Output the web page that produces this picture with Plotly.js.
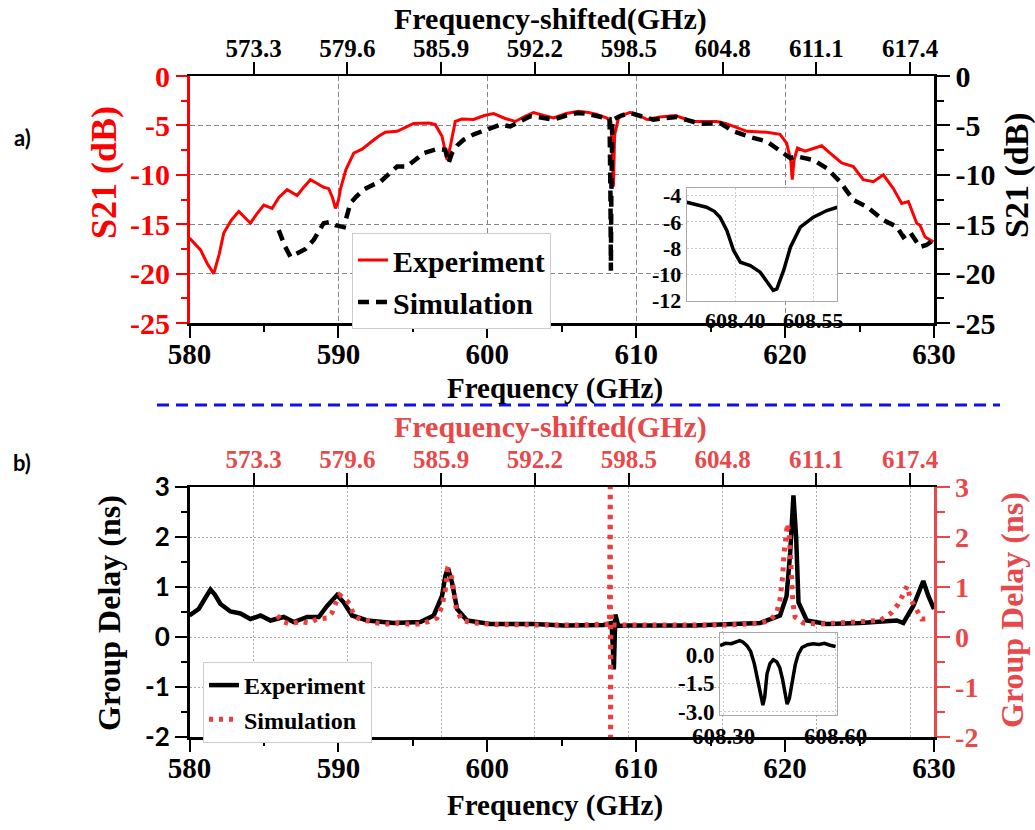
<!DOCTYPE html>
<html>
<head>
<meta charset="utf-8">
<script src="https://cdn.plot.ly/plotly-3.0.1.min.js"></script>
<style>html,body{margin:0;padding:0;background:#fff;}#chart{width:1035px;height:830px;}</style>
</head>
<body>
<div id="chart"></div>
<script>
// ---------- Panel a) S21 ----------
const s21ExpFreq = [580.0,580.3,580.74,581.2,581.63,582.0,582.3,582.8,583.31,583.7,584.09,584.5,584.99,585.55,586.0,586.56,587.23,587.7,588.12,588.6,589.01,589.35,589.6,589.8,590.0,590.13,590.5,591.03,591.59,592.26,592.7,593.15,593.94,594.5,595.05,596.06,596.5,596.96,597.15,597.3,597.52,597.85,598.3,599.08,599.8,600.42,601.2,601.88,602.5,603.1,603.8,604.45,605.3,606.13,606.8,607.36,608.03,608.3,608.4,608.47,608.55,608.81,609.2,609.6,610.2,610.72,611.6,612.62,613.2,613.85,614.6,615.4,616.0,616.53,617.43,618.1,618.77,619.66,620.1,620.38,620.48,620.6,620.83,621.34,621.9,622.46,623.02,623.8,624.58,625.25,625.93,626.6,627.27,627.83,628.28,628.84,629.06,629.4,629.96];
const s21ExpVal  = [-16.4,-16.9,-17.6,-19.0,-20.0,-18.0,-15.9,-14.6,-13.7,-14.3,-14.9,-14.0,-13.06,-13.4,-12.3,-11.5,-12.1,-11.2,-10.5,-10.9,-11.26,-11.4,-12.3,-13.4,-12.6,-11.5,-9.5,-7.8,-7.4,-6.6,-6.1,-5.7,-5.6,-5.2,-4.8,-4.76,-4.9,-6.1,-7.3,-8.5,-7.1,-4.6,-4.35,-4.4,-4.0,-3.8,-4.3,-4.6,-4.1,-3.7,-4.0,-4.25,-3.8,-3.58,-3.7,-3.9,-4.25,-4.6,-8.0,-11.2,-6.0,-4.25,-3.9,-3.68,-4.0,-4.4,-4.15,-4.0,-4.3,-4.6,-4.6,-4.6,-4.8,-5.1,-5.6,-5.65,-5.7,-5.9,-6.8,-8.5,-10.5,-8.5,-7.3,-7.6,-7.3,-7.06,-7.8,-8.8,-9.17,-10.5,-10.7,-10.0,-11.4,-12.9,-12.7,-14.9,-15.1,-16.3,-16.8];

const s21SimFreq = [585.99,586.4,586.78,587.3,587.79,588.34,588.7,589.01,589.4,589.8,590.36,590.8,591.2,591.7,592.2,592.82,593.4,593.94,594.6,595.2,595.73,596.62,597.18,597.4,597.63,598.0,598.41,599.1,599.75,600.3,600.87,601.54,602.2,602.89,603.6,604.45,605.3,606.02,606.6,607.36,608.21,608.27,608.30,608.33,608.40,608.48,609.0,609.6,610.4,611.16,612.0,612.73,613.5,614.3,615.0,615.64,616.53,617.65,618.77,619.66,620.34,620.78,621.9,622.8,623.69,624.58,625.48,626.6,627.5,627.94,628.39,629.06,629.5,629.96];
const s21SimVal  = [-15.6,-17.2,-18.3,-17.9,-17.5,-16.6,-15.6,-14.9,-14.8,-15.1,-15.3,-12.9,-12.2,-11.5,-11.1,-10.7,-9.9,-9.17,-9.17,-8.4,-7.8,-7.4,-7.47,-8.8,-7.8,-7.0,-6.45,-5.9,-5.5,-5.2,-4.93,-5.1,-4.6,-4.08,-4.2,-4.42,-4.0,-3.74,-3.8,-4.08,-4.35,-12.0,-19.7,-12.0,-4.4,-4.4,-4.0,-3.74,-4.1,-4.42,-4.25,-4.15,-4.5,-4.83,-4.8,-4.76,-5.6,-6.18,-6.62,-7.64,-8.3,-8.14,-8.5,-9.33,-10.7,-12.55,-13.23,-14.58,-15.26,-16.3,-15.8,-17.3,-17.1,-16.6];

// inset a): zoom of the experimental dip
const insetAFreq = [608.307,608.325,608.345,608.360,608.371,608.384,608.397,608.410,608.429,608.448,608.461,608.473,608.480,608.493,608.506,608.525,608.550,608.576,608.596];
const insetAVal  = [-4.51,-4.70,-4.89,-5.20,-5.65,-6.66,-8.18,-9.07,-9.32,-9.83,-10.59,-11.22,-11.1,-9.7,-7.93,-6.41,-5.65,-5.14,-4.89];

// ---------- Panel b) Group delay ----------
const gdExpFreq = [580.0,580.62,581.0,581.41,581.7,582.08,582.75,583.42,584.09,584.77,585.44,586.33,587.0,587.9,588.68,589.24,589.91,590.36,590.92,591.93,593.71,595.5,596.4,596.96,597.18,597.36,597.63,597.97,598.64,600.2,603.1,605.12,607.8,608.35,608.5,608.6,608.8,609.38,613.85,618.32,619.66,620.1,620.34,620.56,620.74,620.9,621.46,622.8,625.03,626.82,627.5,627.94,628.61,629.28,629.62,630.0];
const gdExpVal  = [0.43,0.56,0.75,0.95,0.85,0.66,0.51,0.47,0.36,0.43,0.33,0.40,0.30,0.40,0.40,0.62,0.84,0.69,0.43,0.33,0.28,0.30,0.43,0.82,1.22,1.38,1.09,0.56,0.33,0.26,0.26,0.23,0.24,0.28,-0.65,0.45,0.22,0.23,0.23,0.28,0.43,0.82,1.68,2.83,2.0,0.69,0.33,0.26,0.28,0.33,0.33,0.28,0.62,1.12,0.82,0.56];

const gdSimFreq = [585.89,586.22,586.78,587.4,588.0,588.57,589.24,589.58,589.8,590.09,590.47,590.76,591.03,591.48,592.03,592.6,593.27,593.94,594.61,595.39,596.06,596.62,596.96,597.18,597.34,597.52,597.7,597.92,598.3,599.08,600.5,602.0,604.0,606.0,607.5,608.2,608.26,608.28,608.3,608.4,610.0,612.0,614.0,616.0,617.5,618.32,619.0,619.44,619.66,619.84,619.93,620.07,620.16,620.29,620.38,620.52,620.67,621.23,622.35,624.0,625.03,626.38,627.16,627.6,627.94,628.2,628.39,628.72,629.17,629.73];
const gdSimVal  = [0.43,0.31,0.26,0.31,0.28,0.36,0.38,0.49,0.66,0.84,0.76,0.66,0.44,0.34,0.32,0.28,0.26,0.28,0.26,0.26,0.31,0.38,0.62,0.95,1.35,1.32,1.02,0.56,0.33,0.28,0.25,0.24,0.24,0.24,0.24,0.26,3.3,-2.3,0.5,0.24,0.24,0.24,0.23,0.24,0.26,0.28,0.33,0.49,0.76,1.22,1.68,2.07,2.27,2.0,1.35,0.69,0.4,0.28,0.26,0.28,0.3,0.33,0.49,0.66,0.86,1.02,0.79,0.59,0.36,0.36];

// inset b): zoom of the experimental group delay
const insetBFreq = [608.290,608.305,608.320,608.335,608.343,608.352,608.362,608.372,608.382,608.392,608.400,608.405,608.410,608.416,608.424,608.433,608.442,608.450,608.458,608.465,608.470,608.476,608.484,608.492,608.500,608.510,608.525,608.540,608.556,608.570,608.585,608.600];
const insetBVal  = [0.50,0.62,0.60,0.72,0.76,0.68,0.50,0.20,-0.45,-1.40,-2.30,-2.65,-2.20,-1.00,-0.45,-0.25,-0.35,-0.65,-1.30,-2.20,-2.60,-2.30,-1.40,-0.50,0.05,0.40,0.55,0.60,0.56,0.62,0.52,0.45];

// ---------- Tick labels ----------
const shiftedTickVals = [573.3,579.6,585.9,592.2,598.5,604.8,611.1,617.4];
const shiftedTickText = ["573.3","579.6","585.9","592.2","598.5","604.8","611.1","617.4"];
const s21TickVals = [0,-5,-10,-15,-20,-25];
const s21TickText = ["0","-5","-10","-15","-20","-25"];
const gdTickVals = [3,2,1,0,-1,-2];
const gdTickText = ["3","2","1","0","-1","-2"];
const insetATickValsX = [608.40,608.55];
const insetATickTextX = ["608.40","608.55"];
const insetATickValsY = [-12,-10,-8,-6,-4];
const insetATickTextY = ["-12","-10","-8","-6","-4"];
const insetBTickValsX = [608.30,608.60];
const insetBTickTextX = ["608.30","608.60"];
const insetBTickValsY = [0,-1.5,-3];
const insetBTickTextY = ["0.0","-1.5","-3.0"];

// ---------- Styling ----------
const SERIF = "Liberation Serif, Times New Roman, serif";
const SANS = "Lato, Open Sans, sans-serif";
const RED = "#ff0000";
const RED2 = "#e8484a";
const DOTRED = "#f03c3c";
const W = 1035, H = 830;
const px = v => v / W;
const py = v => 1 - v / H;

const xDom = [px(189.5), px(934)];
const yDomA = [py(323), py(76)];
const yDomB = [py(737), py(487)];

function f(size, color, family) {
  return {family: family || SERIF, size: size, color: color || "black", weight: 700};
}

const traces = [
  {x: s21ExpFreq, y: s21ExpVal, xaxis: "x", yaxis: "y", type: "scatter", mode: "lines",
   name: "Experiment", line: {color: RED, width: 3}, legend: "legend"},
  {x: s21SimFreq, y: s21SimVal, xaxis: "x", yaxis: "y", type: "scatter", mode: "lines",
   name: "Simulation", line: {color: "black", width: 4.5, dash: "11px,7px"}, legend: "legend"},
  // carrier trace so the shifted-frequency (top) and right S21 axes are drawn
  {x: [null], y: [null], xaxis: "x2", yaxis: "y2", type: "scatter", mode: "lines",
   showlegend: false, hoverinfo: "skip"},
  {x: gdExpFreq, y: gdExpVal, xaxis: "x3", yaxis: "y3", type: "scatter", mode: "lines",
   name: "Experiment", line: {color: "black", width: 4.5}, legend: "legend2"},
  {x: gdSimFreq, y: gdSimVal, xaxis: "x3", yaxis: "y3", type: "scatter", mode: "lines",
   name: "Simulation", line: {color: DOTRED, width: 5, dash: "4px,6px"}, legend: "legend2"},
  // carrier trace so the shifted-frequency (top) and right group-delay axes are drawn
  {x: [null], y: [null], xaxis: "x4", yaxis: "y4", type: "scatter", mode: "lines",
   showlegend: false, hoverinfo: "skip"},
  {x: insetAFreq, y: insetAVal, xaxis: "x5", yaxis: "y5", type: "scatter", mode: "lines",
   showlegend: false, line: {color: "black", width: 3.5}},
  {x: insetBFreq, y: insetBVal, xaxis: "x6", yaxis: "y6", type: "scatter", mode: "lines",
   showlegend: false, line: {color: "black", width: 3.5}}
];

const gridDash = "5px,3px";
const gridDot = "2px,2px";

const layout = {
  width: W, height: H, autosize: false,
  margin: {l: 0, r: 0, t: 0, b: 0},
  paper_bgcolor: "white", plot_bgcolor: "white",
  font: {family: SERIF, weight: 700, color: "black"},
  showlegend: true,
  // Panel a)
  xaxis: {domain: xDom, anchor: "y", range: [580, 630], dtick: 10, tick0: 580,
    ticks: "outside", ticklen: 12, tickwidth: 2, tickcolor: "black", ticklabelstandoff: -8,
    showline: true, linecolor: "black", linewidth: 2.5, zeroline: false,
    showgrid: true, gridcolor: "#888", gridwidth: 1, griddash: gridDash,
    minor: {dtick: 5, tick0: 580, ticks: "outside", ticklen: 6, tickwidth: 2, tickcolor: "black", showgrid: false},
    tickfont: f(29)},
  xaxis2: {overlaying: "x", side: "top", anchor: "y", range: [569, 619],
    tickmode: "array", tickvals: shiftedTickVals, ticktext: shiftedTickText,
    ticks: "outside", ticklen: 12, tickwidth: 2, tickcolor: "black", ticklabelstandoff: -5,
    showline: true, linecolor: "black", linewidth: 2.5, showgrid: false, zeroline: false,
    tickfont: f(25)},
  yaxis: {domain: yDomA, anchor: "x", range: [-25, 0],
    tickmode: "array", tickvals: s21TickVals, ticktext: s21TickText,
    ticks: "outside", ticklen: 11, tickwidth: 2, tickcolor: RED,
    showline: true, linecolor: RED, linewidth: 2.5, zeroline: false,
    showgrid: true, gridcolor: "#888", gridwidth: 1, griddash: gridDash,
    minor: {dtick: 2.5, tick0: 0, ticks: "outside", ticklen: 6, tickwidth: 2, tickcolor: RED, showgrid: false},
    tickfont: f(30, RED)},
  yaxis2: {overlaying: "y", side: "right", anchor: "x", range: [-25, 0],
    tickmode: "array", tickvals: s21TickVals, ticktext: s21TickText,
    ticks: "outside", ticklen: 13, tickwidth: 2, tickcolor: "black",
    showline: true, linecolor: "black", linewidth: 2.5, showgrid: false, zeroline: false,
    minor: {dtick: 2.5, tick0: 0, ticks: "outside", ticklen: 7, tickwidth: 2, tickcolor: "black", showgrid: false},
    tickfont: f(30)},
  // Panel b)
  xaxis3: {domain: xDom, anchor: "y3", range: [580, 630], dtick: 10, tick0: 580,
    ticks: "outside", ticklen: 12, tickwidth: 2, tickcolor: "black", ticklabelstandoff: -8,
    showline: true, linecolor: "black", linewidth: 2.5, zeroline: false, showgrid: false,
    minor: {dtick: 5, tick0: 580, ticks: "outside", ticklen: 6, tickwidth: 2, tickcolor: "black", showgrid: false},
    tickfont: f(29)},
  xaxis4: {overlaying: "x3", side: "top", anchor: "y3", range: [569, 619],
    tickmode: "array", tickvals: shiftedTickVals, ticktext: shiftedTickText,
    ticks: "outside", ticklen: 12, tickwidth: 2, tickcolor: "black", ticklabelstandoff: -5,
    showline: true, linecolor: "black", linewidth: 2.5, zeroline: false,
    showgrid: true, gridcolor: "#aaa", gridwidth: 1, griddash: gridDot,
    tickfont: f(25, RED2)},
  yaxis3: {domain: yDomB, anchor: "x3", range: [-2, 3],
    tickmode: "array", tickvals: gdTickVals, ticktext: gdTickText,
    ticks: "outside", ticklen: 12, tickwidth: 2, tickcolor: "black",
    showline: true, linecolor: "black", linewidth: 2.5, zeroline: false,
    showgrid: true, gridcolor: "#aaa", gridwidth: 1, griddash: gridDot,
    minor: {dtick: 0.5, tick0: 0, ticks: "outside", ticklen: 6, tickwidth: 2, tickcolor: "black", showgrid: false},
    tickfont: f(26, "black", SANS)},
  yaxis4: {overlaying: "y3", side: "right", anchor: "x3", range: [-2, 3],
    tickmode: "array", tickvals: gdTickVals, ticktext: gdTickText,
    ticks: "outside", ticklen: 13, tickwidth: 2, tickcolor: RED2,
    showline: true, linecolor: RED2, linewidth: 2.5, showgrid: false, zeroline: false,
    minor: {dtick: 0.5, tick0: 0, ticks: "outside", ticklen: 8, tickwidth: 2, tickcolor: RED2, showgrid: false},
    tickfont: f(28, RED2)},
  // Inset a)
  xaxis5: {domain: [px(686.7), px(837.3)], anchor: "y5", range: [608.307, 608.596],
    tickmode: "array", tickvals: insetATickValsX, ticktext: insetATickTextX,
    ticks: "", showline: true, mirror: true, linecolor: "#aaa", linewidth: 1, zeroline: false,
    showgrid: true, gridcolor: "#ccc", griddash: gridDot, tickfont: f(22)},
  yaxis5: {domain: [py(300.7), py(188.3)], anchor: "x5", range: [-12, -3.45],
    tickmode: "array", tickvals: insetATickValsY, ticktext: insetATickTextY,
    ticks: "", showline: true, mirror: true, linecolor: "#aaa", linewidth: 1, zeroline: false,
    showgrid: true, gridcolor: "#ccc", griddash: gridDot, tickfont: f(22)},
  // Inset b)
  xaxis6: {domain: [px(720), px(836.7)], anchor: "y6", range: [608.29, 608.603],
    tickmode: "array", tickvals: insetBTickValsX, ticktext: insetBTickTextX,
    ticks: "", showline: true, mirror: true, linecolor: "#aaa", linewidth: 1, zeroline: false,
    showgrid: true, gridcolor: "#ccc", griddash: gridDot, tickfont: f(23)},
  yaxis6: {domain: [py(715), py(633.3)], anchor: "x6", range: [-3.17, 1.15],
    tickmode: "array", tickvals: insetBTickValsY, ticktext: insetBTickTextY,
    ticks: "", showline: true, mirror: true, linecolor: "#aaa", linewidth: 1, zeroline: false,
    showgrid: true, gridcolor: "#ccc", griddash: gridDot, tickfont: f(23)},
  legend: {x: px(352), y: py(233), xanchor: "left", yanchor: "top",
    bgcolor: "white", bordercolor: "#ccc", borderwidth: 1, font: f(30), tracegroupgap: 0},
  legend2: {x: px(203), y: py(662), xanchor: "left", yanchor: "top",
    bgcolor: "white", bordercolor: "#ccc", borderwidth: 1, font: f(24), tracegroupgap: 0},
  shapes: [
    {type: "line", xref: "paper", yref: "paper", x0: px(157), x1: px(1000), y0: py(405), y1: py(405),
     line: {color: "#1010ee", width: 3, dash: "12px,7px"}}
  ],
  annotations: [
    {text: "Frequency-shifted(GHz)", xref: "paper", yref: "paper", x: px(550), y: py(19), showarrow: false, xanchor: "center", yanchor: "middle", font: f(30)},
    {text: "Frequency (GHz)", xref: "paper", yref: "paper", x: px(555), y: py(388), showarrow: false, xanchor: "center", yanchor: "middle", font: f(29)},
    {text: "S21 (dB)", xref: "paper", yref: "paper", x: px(104), y: py(173), showarrow: false, textangle: -90, xanchor: "center", yanchor: "middle", font: f(36, RED)},
    {text: "S21 (dB)", xref: "paper", yref: "paper", x: px(1017), y: py(175), showarrow: false, textangle: -90, xanchor: "center", yanchor: "middle", font: f(34)},
    {text: "Frequency-shifted(GHz)", xref: "paper", yref: "paper", x: px(550), y: py(427), showarrow: false, xanchor: "center", yanchor: "middle", font: f(30, RED2)},
    {text: "Frequency (GHz)", xref: "paper", yref: "paper", x: px(555), y: py(805), showarrow: false, xanchor: "center", yanchor: "middle", font: f(29)},
    {text: "Group Delay (ns)", xref: "paper", yref: "paper", x: px(109), y: py(613), showarrow: false, textangle: -90, xanchor: "center", yanchor: "middle", font: f(32)},
    {text: "Group Delay (ns)", xref: "paper", yref: "paper", x: px(1012), y: py(610), showarrow: false, textangle: -90, xanchor: "center", yanchor: "middle", font: f(32, RED2)},
    {text: "a)", xref: "paper", yref: "paper", x: px(22), y: py(137), showarrow: false, xanchor: "center", yanchor: "middle", font: f(22, "black", SANS)},
    {text: "b)", xref: "paper", yref: "paper", x: px(22), y: py(462), showarrow: false, xanchor: "center", yanchor: "middle", font: f(22, "black", SANS)}
  ]
};

Plotly.newPlot("chart", traces, layout, {displayModeBar: false, staticPlot: true});
</script>
</body>
</html>
